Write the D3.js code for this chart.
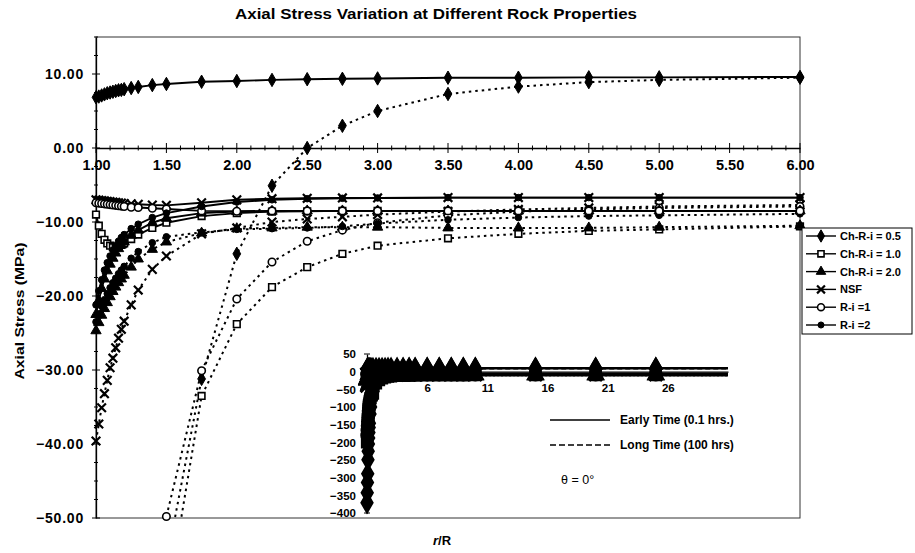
<!DOCTYPE html>
<html>
<head>
<meta charset="utf-8">
<script src="https://cdn.jsdelivr.net/npm/d3@7"></script>
<style>
  body { margin: 0; background: #fff; }
  svg { display: block; }
  text { font-family: Arial, "Liberation Sans", sans-serif; fill: #000; }
</style>
</head>
<body>
<svg id="chart" width="915" height="553"></svg>
<script>
// Radial distance ratio r/R at which stresses were evaluated
const rR = [1.00, 1.02, 1.04, 1.06, 1.08, 1.10, 1.12, 1.14, 1.16, 1.18, 1.20,
            1.25, 1.30, 1.40, 1.50, 1.75, 2.00, 2.25, 2.50, 2.75, 3.00,
            3.50, 4.00, 4.50, 5.00, 6.00, 7, 8, 9, 10, 15, 20, 25, 31];

// Early time (0.1 hrs) axial stress, MPa
const chRi05Early = [6.85, 6.95, 7.1, 7.25, 7.4, 7.5, 7.6, 7.7, 7.8, 7.85, 7.95,
                     8.1, 8.25, 8.5, 8.65, 8.95, 9.05, 9.2, 9.3, 9.35, 9.4,
                     9.5, 9.5, 9.55, 9.55, 9.6, 9.6, 9.65, 9.65, 9.65, 9.7, 9.7, 9.7, 9.7];
const chRi10Early = [-9.0, -10.5, -11.6, -12.4, -12.9, -13.2, -13.4, -13.4, -13.3, -13.1, -12.9,
                     -12.3, -11.7, -10.8, -10.1, -9.2, -8.8, -8.6, -8.55, -8.5, -8.5,
                     -8.5, -8.5, -8.5, -8.5, -8.5, -8.5, -8.5, -8.5, -8.5, -8.5, -8.5, -8.5, -8.5];
const chRi20Early = [-22.5, -20.6, -19.0, -17.7, -16.6, -15.7, -14.9, -14.2, -13.6, -13.1, -12.7,
                     -11.8, -11.1, -10.1, -9.5, -8.8, -8.6, -8.55, -8.5, -8.5, -8.5,
                     -8.5, -8.5, -8.5, -8.5, -8.5, -8.5, -8.5, -8.5, -8.5, -8.5, -8.5, -8.5, -8.5];
const nsfEarly    = [-7.0, -7.05, -7.1, -7.15, -7.2, -7.25, -7.3, -7.35, -7.4, -7.45, -7.5,
                     -7.55, -7.6, -7.7, -7.75, -7.4, -7.0, -6.85, -6.8, -6.75, -6.75,
                     -6.7, -6.7, -6.7, -6.7, -6.7, -6.7, -6.7, -6.7, -6.7, -6.7, -6.7, -6.7, -6.7];
const ri1Early    = [-7.4, -7.45, -7.5, -7.55, -7.6, -7.65, -7.7, -7.75, -7.8, -7.85, -7.9,
                     -8.0, -8.05, -8.15, -8.25, -8.5, -8.55, -8.5, -8.5, -8.5, -8.5,
                     -8.5, -8.5, -8.5, -8.5, -8.5, -8.5, -8.5, -8.5, -8.5, -8.5, -8.5, -8.5, -8.5];
const ri2Early    = [-21.2, -19.3, -17.8, -16.5, -15.5, -14.6, -13.8, -13.2, -12.6, -12.1, -11.7,
                     -10.9, -10.3, -9.4, -8.8, -7.9, -7.3, -7.0, -6.85, -6.8, -6.75,
                     -6.7, -6.7, -6.7, -6.7, -6.7, -6.7, -6.7, -6.7, -6.7, -6.7, -6.7, -6.7, -6.7];

// Long time (100 hrs) axial stress, MPa
const chRi05Long  = [-371, -343, -314, -289, -249, -225, -205, -188, -172, -158, -146,
                     -120, -100, -74, -56, -31.2, -14.3, -5.1, 0.0, 3.0, 5.0,
                     7.3, 8.3, 8.9, 9.2, 9.5, 9.6, 9.65, 9.65, 9.7, 9.7, 9.7, 9.7, 9.7];
const chRi10Long  = [-200, -185, -171, -158, -146, -135, -125, -116, -108, -101, -95,
                     -83, -75, -67, -62, -33.5, -23.8, -18.8, -16.1, -14.3, -13.2,
                     -12.2, -11.6, -11.2, -11.0, -10.6, -10.4, -10.3, -10.2, -10.1, -10.0, -9.9, -9.9, -9.9];
const chRi20Long  = [-24.7, -23.6, -22.6, -21.7, -20.9, -20.1, -19.4, -18.8, -18.2, -17.7, -17.2,
                     -16.1, -15.0, -13.7, -12.7, -11.5, -10.9, -10.8, -10.7, -10.7, -10.7,
                     -10.8, -10.8, -10.8, -10.7, -10.5, -10.4, -10.3, -10.3, -10.3, -10.2, -10.2, -10.2, -10.2];
const nsfLong     = [-39.6, -37.3, -35.1, -33.2, -31.4, -29.7, -28.4, -27.0, -25.7, -24.5, -23.4,
                     -21.2, -19.2, -16.4, -14.6, -11.6, -10.8, -10.0, -9.6, -9.3, -9.0,
                     -8.6, -8.3, -8.1, -7.9, -7.7, -7.6, -7.5, -7.5, -7.4, -7.3, -7.3, -7.2, -7.2];
const ri1Long     = [-180, -166, -153, -141, -130, -120, -111, -103, -96, -90, -84,
                     -74, -66, -56, -49.8, -30.1, -20.4, -15.4, -12.6, -11.1, -10.1,
                     -9.1, -8.6, -8.3, -8.1, -7.9, -7.8, -7.7, -7.7, -7.6, -7.5, -7.5, -7.4, -7.4];
const ri2Long     = [-23.5, -22.4, -21.4, -20.5, -19.7, -18.9, -18.2, -17.6, -17.0, -16.5, -16.0,
                     -14.9, -14.0, -12.8, -12.0, -11.4, -11.0, -10.9, -10.8, -10.6, -10.2,
                     -9.7, -9.4, -9.2, -9.1, -8.9, -8.8, -8.7, -8.7, -8.6, -8.5, -8.5, -8.5, -8.5];

const caseNames = ["Ch-R-i = 0.5", "Ch-R-i = 1.0", "Ch-R-i = 2.0", "NSF", "R-i =1", "R-i =2"];
const mainYTicks = [10, 0, -10, -20, -30, -40, -50];
const mainXTicks = [1.0, 1.5, 2.0, 2.5, 3.0, 3.5, 4.0, 4.5, 5.0, 5.5, 6.0];
const insetYTicks = [50, 0, -50, -100, -150, -200, -250, -300, -350, -400];
const insetXTicks = [6, 11, 16, 21, 26];

// Marker definitions per rock case
const symTimes = d3.symbolTimes || d3.symbolX || d3.symbolCross;
const markers = [
  { type: d3.symbolDiamond,  size: 52, fill: "#000", stroke: "#000", sw: 1 },
  { type: d3.symbolSquare,   size: 44, fill: "#fff", stroke: "#000", sw: 1.6 },
  { type: d3.symbolTriangle, size: 46, fill: "#000", stroke: "#000", sw: 1 },
  { type: symTimes,          size: 50, fill: "none", stroke: "#000", sw: 2.2 },
  { type: d3.symbolCircle,   size: 44, fill: "#fff", stroke: "#000", sw: 1.6 },
  { type: d3.symbolCircle,   size: 34, fill: "#000", stroke: "#000", sw: 1 }
];
const earlyValues = [chRi05Early, chRi10Early, chRi20Early, nsfEarly, ri1Early, ri2Early];
const longValues  = [chRi05Long, chRi10Long, chRi20Long, nsfLong, ri1Long, ri2Long];

const series = [];
longValues.forEach((v, i) => series.push({ name: caseNames[i], values: v, mk: markers[i], dashed: true }));
earlyValues.forEach((v, i) => series.push({ name: caseNames[i], values: v, mk: markers[i], dashed: false }));

const svg = d3.select("#chart");

// ---------- main plot ----------
const plot = { left: 96, right: 800, top: 37, bottom: 518 };
const x = d3.scaleLinear().domain([1, 6]).range([plot.left, plot.right]);
const y = d3.scaleLinear().domain([-50, 15]).range([plot.bottom, plot.top]);

svg.append("defs").append("clipPath").attr("id", "plotClip")
  .append("rect")
  .attr("x", plot.left).attr("y", plot.top)
  .attr("width", plot.right - plot.left).attr("height", plot.bottom - plot.top);

// plot frame
svg.append("rect")
  .attr("x", plot.left).attr("y", plot.top)
  .attr("width", plot.right - plot.left).attr("height", plot.bottom - plot.top)
  .attr("fill", "none").attr("stroke", "#333").attr("stroke-width", 1);

// title
svg.append("text")
  .attr("x", 436).attr("y", 19).attr("text-anchor", "middle")
  .attr("font-size", 15).attr("font-weight", "bold")
  .attr("textLength", 402).attr("lengthAdjust", "spacingAndGlyphs")
  .text("Axial Stress Variation at Different Rock Properties");

// y axis
const yAxis = d3.axisLeft(y)
  .tickValues(mainYTicks).tickSize(0).tickPadding(12)
  .tickFormat(d3.format(".2f"));
const gy = svg.append("g").attr("transform", `translate(${plot.left},0)`).call(yAxis);
gy.select(".domain").attr("stroke", "#000").attr("stroke-width", 1.3);
gy.selectAll("text").attr("font-size", 14).attr("font-weight", "bold")
  .attr("font-family", "Arial, 'Liberation Sans', sans-serif").attr("letter-spacing", 0.8);
// y tick marks (major and minor) crossing the axis
const yMinor = d3.range(-50, 15.1, 2.5);
svg.append("g").selectAll("line").data(yMinor).join("line")
  .attr("x1", d => plot.left - (d % 10 === 0 ? 4 : 2))
  .attr("x2", d => plot.left + (d % 10 === 0 ? 4 : 2))
  .attr("y1", d => y(d)).attr("y2", d => y(d))
  .attr("stroke", "#000").attr("stroke-width", 1);

// x axis through zero
const xAxis = d3.axisBottom(x)
  .tickValues(mainXTicks).tickSize(0).tickPadding(12)
  .tickFormat(d3.format(".2f"));
const gx = svg.append("g").attr("transform", `translate(0,${y(0)})`).call(xAxis);
gx.select(".domain").attr("stroke", "#000").attr("stroke-width", 1.3);
gx.selectAll("text").attr("font-size", 14.5).attr("font-weight", "bold")
  .attr("font-family", "Arial, 'Liberation Sans', sans-serif");
const xMinor = d3.range(1, 6.001, 0.1);
svg.append("g").selectAll("line").data(xMinor).join("line")
  .attr("x1", d => x(d)).attr("x2", d => x(d))
  .attr("y1", (d, i) => y(0) - (i % 5 === 0 ? 5 : 2.5))
  .attr("y2", (d, i) => y(0) + (i % 5 === 0 ? 5 : 2.5))
  .attr("stroke", "#000").attr("stroke-width", 1);

// axis titles
svg.append("text")
  .attr("transform", "translate(24,311) rotate(-90)")
  .attr("text-anchor", "middle").attr("font-size", 13.5).attr("font-weight", "bold")
  .attr("textLength", 137).attr("lengthAdjust", "spacingAndGlyphs")
  .text("Axial Stress (MPa)");
const xt = svg.append("text")
  .attr("x", 442).attr("y", 545).attr("text-anchor", "middle")
  .attr("font-size", 13).attr("font-weight", "bold");
xt.append("tspan").attr("font-style", "italic").text("r");
xt.append("tspan").text("/R");

// series in main plot
const mainLine = d3.line()
  .x(d => x(d[0])).y(d => y(d[1]));
const gLines = svg.append("g").attr("clip-path", "url(#plotClip)");
series.forEach(s => {
  const pts = rR.map((r, i) => [r, s.values[i]]).filter(p => p[0] <= 6.0001);
  gLines.append("path").datum(pts)
    .attr("d", mainLine)
    .attr("fill", "none").attr("stroke", "#000")
    .attr("stroke-width", s.dashed ? 2 : 1.9)
    .attr("stroke-dasharray", s.dashed ? "2.5,4" : null);
});
const gMarks = svg.append("g");
series.forEach(s => {
  const pts = rR.map((r, i) => [r, s.values[i]])
    .filter(p => p[0] <= 6.0001 && p[1] >= -50.5 && p[1] <= 15);
  gMarks.selectAll(null).data(pts).join("path")
    .attr("transform", d => `translate(${x(d[0])},${y(d[1])})`)
    .attr("d", d3.symbol().type(s.mk.type).size(s.mk.size))
    .attr("fill", s.mk.fill).attr("stroke", s.mk.stroke).attr("stroke-width", s.mk.sw);
});

// ---------- legend ----------
const lg = svg.append("g");
lg.append("rect").attr("x", 802).attr("y", 228).attr("width", 110).attr("height", 106)
  .attr("fill", "#fff").attr("stroke", "#000").attr("stroke-width", 1);
caseNames.forEach((name, i) => {
  const ly = 236 + i * 17.8;
  lg.append("line").attr("x1", 806).attr("x2", 836).attr("y1", ly).attr("y2", ly)
    .attr("stroke", "#000").attr("stroke-width", 1.4);
  const m = markers[i];
  lg.append("path").attr("transform", `translate(821,${ly})`)
    .attr("d", d3.symbol().type(m.type).size(m.size * 0.85))
    .attr("fill", m.fill).attr("stroke", m.stroke).attr("stroke-width", m.sw);
  lg.append("text").attr("x", 840).attr("y", ly + 4)
    .attr("font-size", 11).attr("font-weight", "bold").text(name);
});

// ---------- inset: full radial range ----------
const ix = d3.scaleLinear().domain([1, 31]).range([367, 728]);
const iy = d3.scaleLinear().domain([-400, 50]).range([513, 354]);

const iyAxis = d3.axisLeft(iy).tickValues(insetYTicks).tickSize(0).tickPadding(11);
const giy = svg.append("g").attr("transform", `translate(${ix(1)},0)`).call(iyAxis);
giy.select(".domain").attr("stroke", "#000").attr("stroke-width", 1.3);
giy.selectAll("text").attr("font-size", 11.5).attr("font-weight", "bold")
  .attr("font-family", "Arial, 'Liberation Sans', sans-serif");
svg.append("g").selectAll("line").data(insetYTicks).join("line")
  .attr("x1", ix(1) - 3).attr("x2", ix(1) + 3)
  .attr("y1", d => iy(d)).attr("y2", d => iy(d))
  .attr("stroke", "#000").attr("stroke-width", 1);

const ixAxis = d3.axisBottom(ix).tickValues(insetXTicks).tickSize(0).tickPadding(12);
const gix = svg.append("g").attr("transform", `translate(0,${iy(0)})`).call(ixAxis);
gix.select(".domain").attr("stroke", "#000").attr("stroke-width", 1.3);
gix.selectAll("text").attr("font-size", 11.5).attr("font-weight", "bold")
  .attr("font-family", "Arial, 'Liberation Sans', sans-serif");

const insetLine = d3.line().x(d => ix(d[0])).y(d => iy(d[1]));
const gInset = svg.append("g");
series.forEach(s => {
  const pts = rR.map((r, i) => [r, s.values[i]]);
  gInset.append("path").datum(pts)
    .attr("d", insetLine)
    .attr("fill", "none").attr("stroke", "#000")
    .attr("stroke-width", 2.6)
    .attr("stroke-dasharray", s.dashed ? "5,3" : null);
});
series.forEach(s => {
  const pts = rR.map((r, i) => [r, s.values[i]]).filter(p => p[0] < 29);
  gInset.selectAll(null).data(pts).join("path")
    .attr("transform", d => `translate(${ix(d[0])},${iy(d[1])})`)
    .attr("d", d3.symbol().type(s.mk.type).size(s.mk.size * 2.2))
    .attr("fill", "#000").attr("stroke", "#000").attr("stroke-width", s.mk.sw + 0.8);
});

// inset key for time curves
svg.append("line").attr("x1", 550).attr("x2", 610).attr("y1", 420).attr("y2", 420)
  .attr("stroke", "#000").attr("stroke-width", 1.3);
svg.append("text").attr("x", 620).attr("y", 424)
  .attr("font-size", 12).attr("font-weight", "bold").text("Early Time (0.1 hrs.)");
svg.append("line").attr("x1", 550).attr("x2", 610).attr("y1", 445).attr("y2", 445)
  .attr("stroke", "#000").attr("stroke-width", 1.5).attr("stroke-dasharray", "6,3");
svg.append("text").attr("x", 620).attr("y", 449)
  .attr("font-size", 12).attr("font-weight", "bold").text("Long Time (100 hrs)");
svg.append("text").attr("x", 561).attr("y", 484)
  .attr("font-size", 12.5).attr("font-family", "'Liberation Serif', 'Times New Roman', serif")
  .text("θ = 0°");
</script>
</body>
</html>
